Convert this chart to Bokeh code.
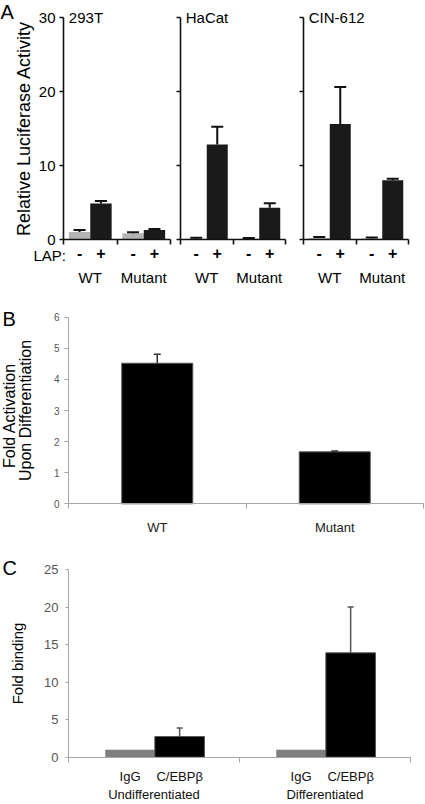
from bokeh.plotting import figure
from bokeh.models import (ColumnDataSource, Range1d, LinearAxis, FixedTicker,
                          Whisker, TeeHead, Label)
from bokeh.layouts import column, row
from bokeh.embed import file_html
from bokeh.resources import INLINE

FONT = "Liberation Sans"

# ---------------- data ----------------
# Panel A: relative luciferase activity (-LAP / +LAP) for WT and Mutant
a_cell_lines = ["293T", "HaCat", "CIN-612"]
a_constructs = ["WT", "Mutant"]
a_lap = ["-", "+"]
a_minus_mean = [[1.0, 0.85], [0.1, 0.1], [0.2, 0.12]]
a_minus_err = [[0.3, 0.12], [0.15, 0.1], [0.15, 0.15]]
a_plus_mean = [[4.85, 1.3], [12.85, 4.3], [15.6, 8.0]]
a_plus_err = [[0.35, 0.12], [2.4, 0.6], [5.0, 0.2]]
a_yticks = [0, 10, 20, 30]

# Panel B: fold activation upon differentiation
b_constructs = ["WT", "Mutant"]
b_mean = [4.52, 1.67]
b_err = [0.29, 0.03]
b_yticks = [0, 1, 2, 3, 4, 5, 6]

# Panel C: fold binding (ChIP)
c_conditions = ["Undifferentiated", "Differentiated"]
c_antibodies = ["IgG", "C/EBP\u03b2"]
c_igg_mean = [1.0, 1.0]
c_cebpb_mean = [2.75, 13.9]
c_cebpb_err = [1.15, 6.1]
c_yticks = [0, 5, 10, 15, 20, 25]

# ---------------- helpers ----------------
G = 100  # width of one group on the numeric x scale
BOUNDS = [0, G, 2 * G]


class Geo:
    """Maps canvas pixels (from top-left) to data so that the frame fills the canvas."""

    def __init__(self, w, h, x0px, x1px, y0px, y1px, xd, yd):
        self.w, self.h = w, h
        self.x0px, self.y0px = x0px, y0px
        self.xd0, self.yd0 = xd[0], yd[0]
        self.kx = (x1px - x0px) / (xd[1] - xd[0])
        self.ky = (y0px - y1px) / (yd[1] - yd[0])

    def x(self, px):
        return self.xd0 + (px - self.x0px) / self.kx

    def y(self, py):
        return self.yd0 + (self.y0px - py) / self.ky


def base_fig(geo):
    p = figure(width=geo.w, height=geo.h,
               x_range=Range1d(geo.x(0), geo.x(geo.w)), y_range=Range1d(geo.y(geo.h), geo.y(0)),
               output_backend="svg", toolbar_location=None,
               min_border_left=0, min_border_right=0, min_border_top=0, min_border_bottom=0)
    p.outline_line_color = None
    p.grid.visible = False
    p.background_fill_color = "white"
    p.border_fill_color = "white"
    p.xaxis[0].fixed_location = 0
    p.yaxis[0].fixed_location = 0
    return p


def style_axis(ax, color, width, ticks, minor, labels, label_size, standoff, label_color,
               tick_out=5, show_major=True, style="normal"):
    kw = dict(ticks=ticks)
    if minor is not None:
        kw["minor_ticks"] = minor
    ax.ticker = FixedTicker(**kw)
    if labels is not None:
        ax.major_label_overrides = {t: l for t, l in zip(ticks, labels)}
    ax.axis_line_color = color
    ax.axis_line_width = width
    ax.major_tick_line_color = color if show_major else None
    ax.major_tick_line_width = width
    ax.major_tick_in = 0
    ax.major_tick_out = tick_out
    ax.minor_tick_line_color = color
    ax.minor_tick_line_width = width
    ax.minor_tick_in = 0
    ax.minor_tick_out = tick_out
    ax.major_label_text_font = FONT
    ax.major_label_text_font_size = label_size
    ax.major_label_text_font_style = style
    ax.major_label_standoff = standoff
    ax.major_label_text_color = label_color


def label_axis(ticks, labels, size, standoff, color):
    ax = LinearAxis(ticker=FixedTicker(ticks=ticks), fixed_location=0,
                    major_label_overrides={t: l for t, l in zip(ticks, labels)})
    ax.axis_line_color = None
    ax.major_tick_line_color = None
    ax.minor_tick_line_color = None
    ax.major_tick_in = 0
    ax.major_tick_out = 0
    ax.minor_tick_out = 0
    ax.major_label_text_font = FONT
    ax.major_label_text_font_size = size
    ax.major_label_text_font_style = "normal"
    ax.major_label_standoff = standoff
    ax.major_label_text_color = color
    return ax


def set_ylabel(ax, text, size, standoff):
    ax.axis_label = text
    ax.axis_label_text_font = FONT
    ax.axis_label_text_font_size = size
    ax.axis_label_text_font_style = "normal"
    ax.axis_label_text_color = "black"
    ax.axis_label_standoff = standoff


def text_label(p, text, x, y, size, baseline="top", align="left", color="black"):
    p.add_layout(Label(x=x, y=y, text=text, text_font=FONT, text_font_size=size,
                       text_baseline=baseline, text_align=align, text_color=color))


# ---------------- panel A ----------------
def make_a(i, geo):
    p = base_fig(geo)
    gx = [g * G for g in range(len(a_constructs))]
    minus_x = [x + 30 for x in gx]
    plus_x = [x + 70 for x in gx]
    src_m = ColumnDataSource(dict(x=minus_x, top=a_minus_mean[i],
                                  upper=[m + e for m, e in zip(a_minus_mean[i], a_minus_err[i])]))
    src_p = ColumnDataSource(dict(x=plus_x, top=a_plus_mean[i],
                                  upper=[m + e for m, e in zip(a_plus_mean[i], a_plus_err[i])]))
    p.vbar(x="x", top="top", width=40, source=src_m, fill_color="#b4b4b4", line_color=None)
    p.vbar(x="x", top="top", width=40, source=src_p, fill_color="#1a1a1a", line_color=None)
    for src in (src_m, src_p):
        p.add_layout(Whisker(source=src, base="x", lower="top", upper="upper",
                             dimension="height", line_color="#111111", line_width=2,
                             upper_head=TeeHead(size=12, line_color="#111111", line_width=2),
                             lower_head=None, level="overlay"))
    # x axis: "-"/"+" labels under the bars, tick marks at the group boundaries
    sign_ticks = sorted(minus_x + plus_x)
    sign_labels = [a_lap[0] if t in minus_x else a_lap[1] for t in sign_ticks]
    xa = p.xaxis[0]
    style_axis(xa, "#111111", 1.6, sign_ticks, BOUNDS, sign_labels, "16px", 2, "black",
               tick_out=5, show_major=False, style="bold")
    xa.bounds = (0, 2 * G)
    p.add_layout(label_axis([x + G // 2 for x in gx], a_constructs, "15px", 29, "black"), "below")
    ya = p.yaxis[0]
    if i == 0:
        style_axis(ya, "#111111", 1.6, a_yticks, None, None, "15px", 4, "black", tick_out=4)
        set_ylabel(ya, "Relative Luciferase Activity", "18px", 2)
    else:
        style_axis(ya, "#111111", 1.6, [], a_yticks, None, "15px", 4, "black", tick_out=4)
    ya.bounds = (a_yticks[0], a_yticks[-1])
    text_label(p, a_cell_lines[i], 10, a_yticks[-1], "15px", baseline="middle")
    return p


gA1 = Geo(174, 290, 63, 170, 239, 17, (0, 2 * G), (0, 30))
gA2 = Geo(118, 290, 6, 111, 239, 17, (0, 2 * G), (0, 30))
gA3 = Geo(133, 290, 11, 116, 239, 17, (0, 2 * G), (0, 30))
fA1 = make_a(0, gA1)
fA2 = make_a(1, gA2)
fA3 = make_a(2, gA3)
text_label(fA1, "A", gA1.x(0), gA1.y(0), "20px")
text_label(fA1, "LAP:", gA1.x(33), gA1.y(255), "15px", baseline="middle")

# ---------------- panel B ----------------
gB = Geo(425, 250, 68, 423, 213.3, 26.7, (0, 2 * G), (0, 6))
fB = base_fig(gB)
b_x = [g * G + G // 2 for g in range(len(b_constructs))]
src_b = ColumnDataSource(dict(x=b_x, top=b_mean, upper=[m + e for m, e in zip(b_mean, b_err)]))
fB.vbar(x="x", top="top", width=40, source=src_b, fill_color="black", line_color="#555555",
        line_width=1)
fB.add_layout(Whisker(source=src_b, base="x", lower="top", upper="upper", dimension="height",
                      line_color="#333333", line_width=1.5,
                      upper_head=TeeHead(size=7, line_color="#333333", line_width=1.5),
                      lower_head=None, level="overlay"))
style_axis(fB.xaxis[0], "#a6a6a6", 1, b_x, BOUNDS, b_constructs, "13px", 11, "#222222",
           tick_out=5, show_major=False)
fB.xaxis[0].bounds = (0, 2 * G)
style_axis(fB.yaxis[0], "#a6a6a6", 1, b_yticks, None, None, "10px", 5, "#555555", tick_out=4)
fB.yaxis[0].bounds = (b_yticks[0], b_yticks[-1])
set_ylabel(fB.yaxis[0], "Upon Differentiation", "16px", 17)
yb2 = LinearAxis(ticker=FixedTicker(ticks=[]), fixed_location=0, axis_line_color=None,
                 major_tick_out=0, major_tick_in=0, minor_tick_out=0, minor_tick_in=0,
                 major_label_standoff=0)
set_ylabel(yb2, "Fold Activation", "16px", 51)
fB.add_layout(yb2, "left")
text_label(fB, "B", gB.x(2), gB.y(17), "20px")

# ---------------- panel C ----------------
gC = Geo(425, 264, 68, 410, 216.7, 29, (0, 2 * G), (0, 25))
fC = base_fig(gC)
c_gx = [g * G for g in range(len(c_conditions))]
igg_x = [x + 36 for x in c_gx]
ceb_x = [x + 65 for x in c_gx]
src_igg = ColumnDataSource(dict(x=igg_x, top=c_igg_mean))
src_ceb = ColumnDataSource(dict(x=ceb_x, top=c_cebpb_mean,
                                upper=[m + e for m, e in zip(c_cebpb_mean, c_cebpb_err)]))
fC.vbar(x="x", top="top", width=29, source=src_igg, fill_color="#7f7f7f", line_color=None)
fC.vbar(x="x", top="top", width=29, source=src_ceb, fill_color="black", line_color="#555555",
        line_width=1)
fC.add_layout(Whisker(source=src_ceb, base="x", lower="top", upper="upper", dimension="height",
                      line_color="#555555", line_width=1.5,
                      upper_head=TeeHead(size=6, line_color="#555555", line_width=1.5),
                      lower_head=None, level="overlay"))
sub_ticks = sorted(igg_x + ceb_x)
sub_labels = [c_antibodies[0] if t in igg_x else c_antibodies[1] for t in sub_ticks]
style_axis(fC.xaxis[0], "#a6a6a6", 1, sub_ticks, BOUNDS, sub_labels, "13px", 7, "#111111",
           tick_out=5, show_major=False)
fC.xaxis[0].bounds = (0, 2 * G)
fC.add_layout(label_axis([x + G // 2 for x in c_gx], c_conditions, "13px", 30, "#111111"),
              "below")
style_axis(fC.yaxis[0], "#a6a6a6", 1, c_yticks, None, None, "13px", 7, "#555555", tick_out=3)
fC.yaxis[0].bounds = (c_yticks[0], c_yticks[-1])
set_ylabel(fC.yaxis[0], "Fold binding", "15px", 15)
text_label(fC, "C", gC.x(2), gC.y(16), "20px")

layout = column(row(fA1, fA2, fA3), fB, fC)
open("out.html", "w").write(file_html(layout, INLINE))
